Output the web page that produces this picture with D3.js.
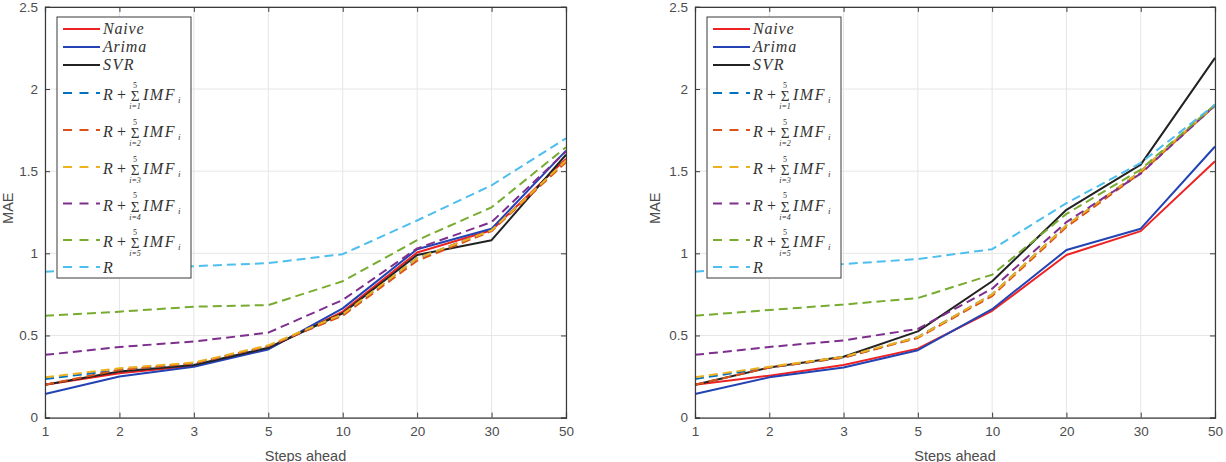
<!DOCTYPE html>
<html><head><meta charset="utf-8">
<script src="https://cdn.jsdelivr.net/npm/d3@7"></script>
<style>
html,body{margin:0;padding:0;background:#fff;}
svg{display:block;}
text{font-family:"Liberation Sans",Arial,Helvetica,sans-serif;}
.math{font-family:"Liberation Serif","DejaVu Serif",serif;}
</style></head>
<body><svg id="chart" width="1226" height="462"></svg>
<script>
// ---- data ----
const steps = ["1","2","3","5","10","20","30","50"];
const yTicks = [0, 0.5, 1, 1.5, 2, 2.5];
const yTickLabels = ["0","0.5","1","1.5","2","2.5"];
const seriesNames = ["Naive","Arima","SVR","IMF1","IMF2","IMF3","IMF4","IMF5","R"];
const seriesColors = ["#ee2222","#2343b4","#222222","#0072bd","#d95319","#edb120","#7e2f8e","#77ac30","#4dbeee"];
const seriesDashed = [false,false,false,true,true,true,true,true,true];
const sumLowerIdx = ["i=1","i=2","i=3","i=4","i=5"];

// left panel
const naiveL = [0.200, 0.270, 0.315, 0.420, 0.645, 1.005, 1.140, 1.575];
const arimaL = [0.144, 0.250, 0.310, 0.415, 0.665, 1.025, 1.150, 1.625];
const svrL   = [0.200, 0.280, 0.320, 0.425, 0.635, 0.990, 1.080, 1.600];
const imf1L  = [0.235, 0.290, 0.330, 0.435, 0.625, 0.970, 1.140, 1.560];
const imf2L  = [0.200, 0.290, 0.330, 0.435, 0.620, 0.955, 1.135, 1.555];
const imf3L  = [0.245, 0.300, 0.335, 0.440, 0.630, 0.970, 1.140, 1.565];
const imf4L  = [0.382, 0.430, 0.463, 0.517, 0.716, 1.030, 1.190, 1.620];
const imf5L  = [0.620, 0.645, 0.675, 0.685, 0.830, 1.080, 1.280, 1.646];
const rL     = [0.888, 0.910, 0.922, 0.940, 0.995, 1.200, 1.414, 1.700];

// right panel
const naiveR = [0.200, 0.255, 0.320, 0.420, 0.650, 0.990, 1.135, 1.560];
const arimaR = [0.144, 0.245, 0.305, 0.410, 0.660, 1.020, 1.150, 1.650];
const svrR   = [0.200, 0.305, 0.370, 0.525, 0.830, 1.265, 1.540, 2.190];
const imf1R  = [0.235, 0.305, 0.365, 0.490, 0.750, 1.170, 1.500, 1.900];
const imf2R  = [0.200, 0.305, 0.365, 0.485, 0.740, 1.160, 1.490, 1.900];
const imf3R  = [0.245, 0.310, 0.370, 0.490, 0.750, 1.170, 1.500, 1.905];
const imf4R  = [0.382, 0.430, 0.470, 0.540, 0.785, 1.190, 1.485, 1.900];
const imf5R  = [0.620, 0.655, 0.688, 0.728, 0.870, 1.240, 1.510, 1.905];
const rR     = [0.888, 0.920, 0.935, 0.965, 1.025, 1.305, 1.550, 1.905];

const panelsData = [
  [naiveL, arimaL, svrL, imf1L, imf2L, imf3L, imf4L, imf5L, rL],
  [naiveR, arimaR, svrR, imf1R, imf2R, imf3R, imf4R, imf5R, rR]
];

// ---- drawing ----
const svg = d3.select("#chart");
svg.append("rect").attr("width",1226).attr("height",462).attr("fill","#fff");

const layout = [{left:45, right:566, maeX:13}, {left:695, right:1215, maeX:660}];
const yTop = 6.9, yBot = 417.6;
const y = d3.scaleLinear().domain([0,2.5]).range([yBot, yTop]);

layout.forEach((L, pi) => {
  const g = svg.append("g");
  const x = d3.scalePoint().domain(steps).range([L.left, L.right]);

  // grid
  g.append("g").selectAll("line").data(steps).join("line")
    .attr("x1", d => x(d)).attr("x2", d => x(d))
    .attr("y1", yTop).attr("y2", yBot)
    .attr("stroke", "#e6e6e6").attr("stroke-width", 1);
  g.append("g").selectAll("line").data(yTicks).join("line")
    .attr("x1", L.left).attr("x2", L.right)
    .attr("y1", d => y(d)).attr("y2", d => y(d))
    .attr("stroke", "#e6e6e6").attr("stroke-width", 1);

  // series lines
  const line = d3.line().x((d,i) => x(steps[i])).y(d => y(d));
  panelsData[pi].forEach((vals, si) => {
    g.append("path").datum(vals)
      .attr("d", line)
      .attr("fill", "none")
      .attr("stroke", seriesColors[si])
      .attr("stroke-width", 2)
      .attr("stroke-dasharray", seriesDashed[si] ? "9,5" : null)
      .attr("stroke-linejoin", "round");
  });

  // axes
  const ax = g.append("g").attr("transform", `translate(0,${yBot})`)
    .call(d3.axisBottom(x).tickSize(-5).tickPadding(9));
  const ay = g.append("g").attr("transform", `translate(${L.left},0)`)
    .call(d3.axisLeft(y).tickValues(yTicks).tickFormat((d,i) => yTickLabels[i]).tickSize(-5).tickPadding(7));
  const axT = g.append("g").attr("transform", `translate(0,${yTop})`)
    .call(d3.axisTop(x).tickSize(-5).tickFormat(""));
  const ayR = g.append("g").attr("transform", `translate(${L.right},0)`)
    .call(d3.axisRight(y).tickValues(yTicks).tickSize(-5).tickFormat(""));
  [ax, ay, axT, ayR].forEach(a => {
    a.select(".domain").attr("stroke", "#3a3a3a").attr("stroke-width", 1.2);
    a.selectAll(".tick line").attr("stroke", "#3a3a3a");
    a.selectAll(".tick text").attr("fill", "#4d4d4d").style("font-size", "13.5px")
      .style("font-family", "'Liberation Sans',Arial,sans-serif");
  });

  // axis titles
  g.append("text").attr("x", (L.left + L.right) / 2).attr("y", 460.5)
    .attr("text-anchor", "middle").attr("fill", "#4d4d4d").style("font-size", "14.5px")
    .text("Steps ahead");
  g.append("text").attr("transform", `translate(${L.maeX},${(yTop + yBot) / 2 - 4}) rotate(-90)`)
    .attr("text-anchor", "middle").attr("fill", "#4d4d4d").style("font-size", "14.5px")
    .text("MAE");

  // legend
  const lx = L.left + 12, ly = 17, lw = 134, lh = 261;
  const lg = g.append("g");
  lg.append("rect").attr("x", lx).attr("y", ly).attr("width", lw).attr("height", lh)
    .attr("fill", "#fff").attr("stroke", "#3a3a3a").attr("stroke-width", 1);
  const rowY = [29, 47, 65, 93, 130, 167, 203.5, 240, 267];
  seriesNames.forEach((nm, si) => {
    const ry = rowY[si];
    lg.append("line").attr("x1", lx + 6).attr("x2", lx + 43)
      .attr("y1", ry).attr("y2", ry)
      .attr("stroke", seriesColors[si]).attr("stroke-width", 2)
      .attr("stroke-dasharray", seriesDashed[si] ? "9,7.5" : null);
    const tx = lx + 46;
    if (si < 3) {
      lg.append("text").attr("class", "math").attr("x", tx).attr("y", ry + 5)
        .attr("fill", "#333").style("font-size", "16px").style("font-style", "italic")
        .style("letter-spacing", si === 2 ? "1.5px" : "0.8px")
        .text(nm);
    } else if (si < 8) {
      const b = ry + 7;
      lg.append("text").attr("class", "math").attr("x", tx).attr("y", b)
        .attr("fill", "#333").style("font-size", "16px").style("font-style", "italic").text("R");
      lg.append("text").attr("class", "math").attr("x", tx + 14).attr("y", b)
        .attr("fill", "#333").style("font-size", "16px").text("+");
      lg.append("text").attr("class", "math").attr("x", tx + 32).attr("y", b + 1)
        .attr("text-anchor", "middle")
        .attr("fill", "#333").style("font-size", "15px").text("\u03A3");
      lg.append("text").attr("class", "math").attr("x", tx + 32).attr("y", b - 12.5)
        .attr("text-anchor", "middle")
        .attr("fill", "#333").style("font-size", "8px").text("5");
      lg.append("text").attr("class", "math").attr("x", tx + 32).attr("y", b + 9)
        .attr("text-anchor", "middle")
        .attr("fill", "#333").style("font-size", "8px").style("font-style", "italic").text(sumLowerIdx[si - 3]);
      lg.append("text").attr("class", "math").attr("x", tx + 40).attr("y", b)
        .attr("fill", "#333").style("font-size", "16px").style("font-style", "italic")
        .style("letter-spacing", "1.5px").text("IMF");
      lg.append("text").attr("class", "math").attr("x", tx + 75).attr("y", b + 3)
        .attr("fill", "#333").style("font-size", "9px").style("font-style", "italic").text("i");
    } else {
      lg.append("text").attr("class", "math").attr("x", tx).attr("y", ry + 5.5)
        .attr("fill", "#333").style("font-size", "16px").style("font-style", "italic").text("R");
    }
  });
});
</script></body></html>
